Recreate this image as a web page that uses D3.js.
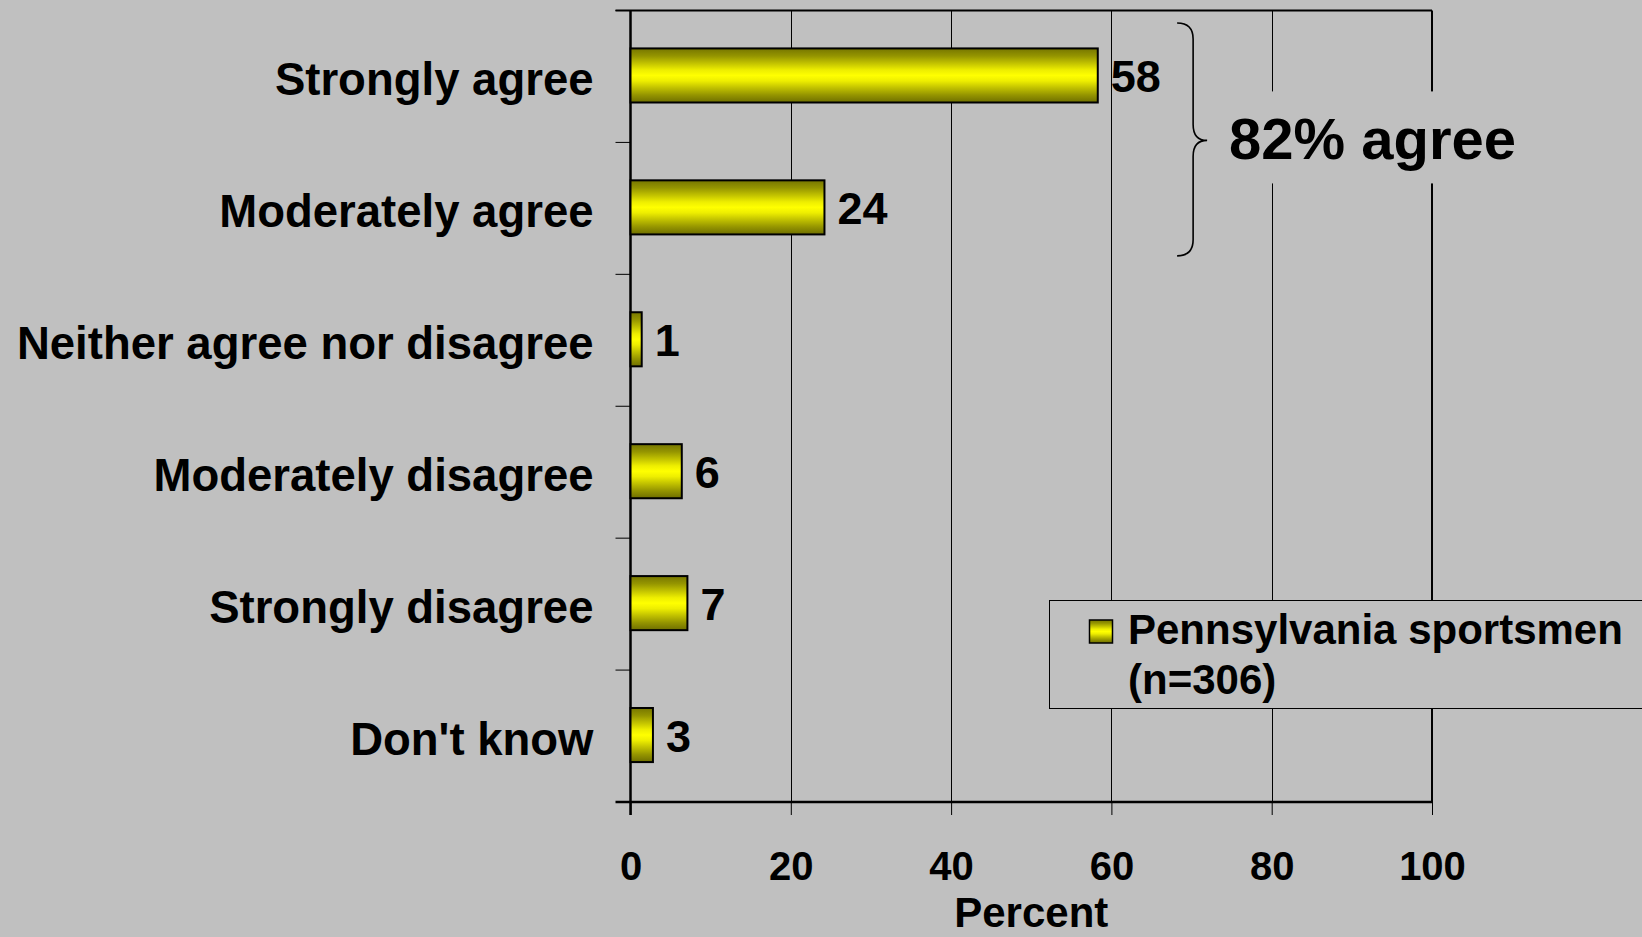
<!DOCTYPE html>
<html>
<head>
<meta charset="utf-8">
<script src="https://cdn.jsdelivr.net/npm/d3@7"></script>
<style>
  html, body { margin: 0; padding: 0; background: #c0c0c0; }
  svg { display: block; }
  text { font-family: "Liberation Sans", Arial, Helvetica, sans-serif; font-weight: bold; fill: #000; }
</style>
</head>
<body>
<svg id="chart" width="1642" height="937"></svg>
<script>
// ---- data ----
const categories = ["Strongly agree", "Moderately agree", "Neither agree nor disagree",
                    "Moderately disagree", "Strongly disagree", "Don't know"];
const values = [58.3, 24.2, 1.4, 6.4, 7.1, 2.8];
const xTicks = [0, 20, 40, 60, 80, 100];
const seriesName = ["Pennsylvania sportsmen", "(n=306)"];
const axisTitle = "Percent";
const agreeGroup = ["Strongly agree", "Moderately agree"];

// ---- layout ----
const W = 1642, H = 937;
const plot = { left: 630.5, right: 1432, top: 10.5, bottom: 802 };
const svg = d3.select("#chart");

const x = d3.scaleLinear().domain([0, 100]).range([plot.left, plot.right]);
const y = d3.scaleBand().domain(categories).range([plot.top, plot.bottom]).padding(0);
const fmt = d3.format(".0f");

// gradient for bars
const defs = svg.append("defs");
const grad = defs.append("linearGradient").attr("id", "barGrad")
  .attr("x1", 0).attr("y1", 0).attr("x2", 0).attr("y2", 1);
[[0, "#767600"], [0.14, "#959500"], [0.28, "#c4c400"], [0.4, "#eeee00"], [0.5, "#ffff00"],
 [0.6, "#eeee00"], [0.72, "#c4c400"], [0.86, "#959500"], [1, "#6e6e00"]]
  .forEach(([o, c]) => grad.append("stop").attr("offset", o).attr("stop-color", c));

// background
svg.append("rect").attr("width", W).attr("height", H).attr("fill", "#c0c0c0");

// vertical gridlines (inner)
svg.append("g").selectAll("line").data(xTicks.filter(t => t > 0 && t < 100)).join("line")
  .attr("x1", d => Math.round(x(d)) + 0.5).attr("x2", d => Math.round(x(d)) + 0.5)
  .attr("y1", plot.top).attr("y2", plot.bottom)
  .attr("stroke", "#000").attr("stroke-width", 1);

// right border (100) and top border
svg.append("line").attr("x1", x(100)).attr("x2", x(100)).attr("y1", plot.top).attr("y2", plot.bottom)
  .attr("stroke", "#000").attr("stroke-width", 2);

// category boundary ticks (including top)
const bounds = categories.map(c => y(c)).concat([plot.bottom]);
svg.append("g").selectAll("line").data(bounds.slice(0, -1)).join("line")
  .attr("x1", plot.left - 15).attr("x2", plot.left)
  .attr("y1", d => d).attr("y2", d => d)
  .attr("stroke", "#000").attr("stroke-width", 1);
svg.append("line").attr("x1", plot.left - 15).attr("x2", plot.right)
  .attr("y1", plot.top).attr("y2", plot.top).attr("stroke", "#000").attr("stroke-width", 2);

// bottom axis
const xAxis = svg.append("g").attr("transform", `translate(0,${plot.bottom})`)
  .call(d3.axisBottom(x).tickValues(xTicks).tickSize(13).tickSizeOuter(0).tickFormat(d3.format("d")));
xAxis.select(".domain").remove();
xAxis.selectAll(".tick line").attr("stroke", "#000").attr("stroke-width", 1);
xAxis.selectAll(".tick text").attr("y", 78).attr("dy", 0)
  .style("font-size", "40px").style("font-family", '"Liberation Sans", Arial, sans-serif')
  .style("font-weight", "bold").attr("fill", "#000");
svg.append("line").attr("x1", plot.left - 15).attr("x2", plot.right)
  .attr("y1", plot.bottom).attr("y2", plot.bottom).attr("stroke", "#000").attr("stroke-width", 2.5);

// left axis line
svg.append("line").attr("x1", plot.left).attr("x2", plot.left)
  .attr("y1", plot.top).attr("y2", plot.bottom + 13).attr("stroke", "#000").attr("stroke-width", 2.5);

// category labels
const yAxis = svg.append("g").attr("transform", `translate(${plot.left},0)`)
  .call(d3.axisLeft(y).tickSize(0).tickPadding(37));
yAxis.select(".domain").remove();
yAxis.selectAll(".tick text").attr("dy", "0.41em")
  .style("font-size", "45.5px").style("font-family", '"Liberation Sans", Arial, sans-serif')
  .style("font-weight", "bold").attr("fill", "#000");

// axis title
svg.append("text").attr("x", (plot.left + plot.right) / 2).attr("y", 927)
  .attr("text-anchor", "middle").style("font-size", "42px").text(axisTitle);

// bars
const barH = y.bandwidth() * 0.41;
svg.append("g").selectAll("rect").data(values).join("rect")
  .attr("x", x(0)).attr("y", (d, i) => y(categories[i]) + y.bandwidth() / 2 - barH / 2 - 1)
  .attr("width", d => x(d) - x(0)).attr("height", barH)
  .attr("fill", "url(#barGrad)").attr("stroke", "#000").attr("stroke-width", 2);

// value labels
svg.append("g").selectAll("text").data(values).join("text")
  .attr("x", d => x(d) + 13).attr("y", (d, i) => y(categories[i]) + y.bandwidth() / 2 + 16)
  .style("font-size", "45px").text(d => fmt(d));

// brace annotation
const bTop = y(agreeGroup[0]) + 12.5;
const bBot = y(agreeGroup[1]) + y.bandwidth() - 18.5;
const bMid = (bTop + bBot) / 2 + 1;
const bx0 = x(68.2), bx1 = bx0 + 16, bx2 = bx0 + 30;
const r = 16;
const brace = `M${bx0},${bTop} Q${bx1},${bTop} ${bx1},${bTop + r} L${bx1},${bMid - r} Q${bx1},${bMid} ${bx2},${bMid}
  Q${bx1},${bMid} ${bx1},${bMid + r} L${bx1},${bBot - r} Q${bx1},${bBot} ${bx0},${bBot}`;
svg.append("rect").attr("x", bx0 + 45).attr("y", bMid - 49).attr("width", 305).attr("height", 92)
  .attr("fill", "#c0c0c0");
svg.append("path").attr("d", brace).attr("fill", "none").attr("stroke", "#000").attr("stroke-width", 1.6);
const agreeTotal = agreeGroup.reduce((s, c) => s + +fmt(values[categories.indexOf(c)]), 0);
svg.append("text").attr("x", bx0 + 52).attr("y", bMid + 19)
  .style("font-size", "58px").text(`${agreeTotal}% agree`);

// legend
const lg = svg.append("g");
lg.append("rect").attr("x", 1049.5).attr("y", 600.5).attr("width", 700).attr("height", 108)
  .attr("fill", "#c0c0c0").attr("stroke", "#000").attr("stroke-width", 1);
lg.append("rect").attr("x", 1089.5).attr("y", 620).attr("width", 23).attr("height", 23)
  .attr("fill", "url(#barGrad)").attr("stroke", "#000").attr("stroke-width", 1.5);
lg.selectAll("text.leg").data(seriesName).join("text").attr("class", "leg")
  .attr("x", 1128).attr("y", (d, i) => 644 + i * 50)
  .style("font-size", "42px").text(d => d);
</script>
</body>
</html>
